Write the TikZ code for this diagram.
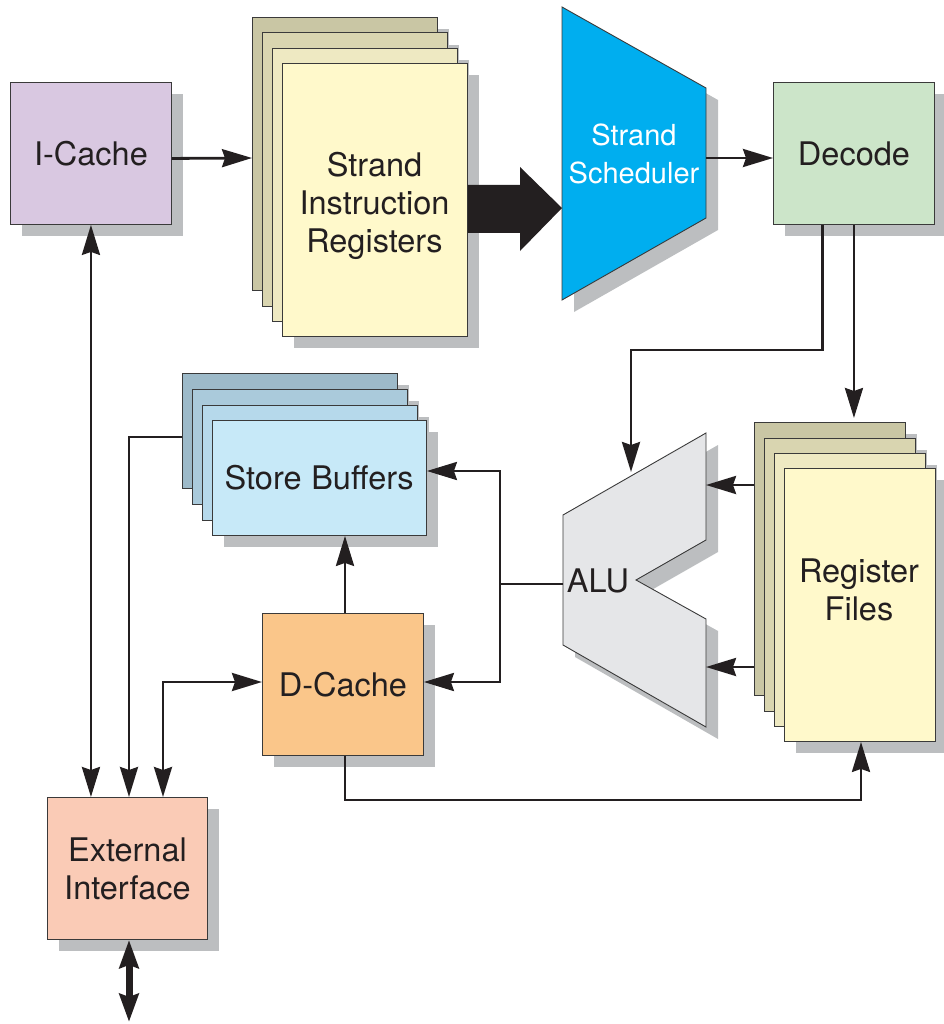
\documentclass[tikz,border=0pt]{standalone}
\usepackage{fontspec}
\setmainfont{TeX Gyre Heros}
\usetikzlibrary{arrows.meta,shadows,calc}
\definecolor{shgray}{HTML}{BCBEC0}
\definecolor{ink}{HTML}{231F20}
\definecolor{edge}{HTML}{3A3A3A}
\definecolor{icachec}{HTML}{D9C8E1}
\definecolor{yelA}{HTML}{FFF9CB}
\definecolor{yelB}{HTML}{EEE9C2}
\definecolor{yelC}{HTML}{D9D5B0}
\definecolor{yelD}{HTML}{C9C6A4}
\definecolor{blueA}{HTML}{C7E9F8}
\definecolor{blueB}{HTML}{B6D9EB}
\definecolor{blueC}{HTML}{AACADB}
\definecolor{blueD}{HTML}{9DBAC9}
\definecolor{schedc}{HTML}{00AEEF}
\definecolor{decodec}{HTML}{CCE5C9}
\definecolor{aluc}{HTML}{E5E6E8}
\definecolor{dcachec}{HTML}{FAC68A}
\definecolor{extc}{HTML}{FACBB6}
\begin{document}
\begin{tikzpicture}[x=1pt,y=-1pt,
  shadowed/.style={drop shadow={shadow xshift=12pt,shadow yshift=-12pt,fill=shgray,opacity=1}},
  box/.style={draw=edge,line width=0.9pt,inner sep=0pt,anchor=north west,shadowed,
    font=\fontsize{32.5}{38}\selectfont,text=ink,align=center},
  lbl/.style={font=\fontsize{32.5}{38}\selectfont,text=ink,align=center,inner sep=0pt},
  conn/.style={draw=ink,line width=2.8pt},
  arr/.style={conn,-{Stealth[length=30pt,width=18pt,inset=3pt]}},
  arrtwo/.style={conn,{Stealth[length=30pt,width=18pt,inset=3pt]}-{Stealth[length=30pt,width=18pt,inset=3pt]}},
  bus/.style={draw=ink,line width=7pt,{Stealth[length=28pt,width=19pt,inset=3pt]}-{Stealth[length=28pt,width=19pt,inset=3pt]}}
]
\useasboundingbox (0,0) rectangle (943,1024);

% I-Cache
\node[box,fill=icachec,minimum width=161pt,minimum height=142pt] (icache) at (10,82) {I-Cache};

% Strand Instruction Registers stack
\node[box,fill=yelD,minimum width=185pt,minimum height=273pt] (sirD) at (252,17) {};
\node[box,fill=yelC,minimum width=185pt,minimum height=273pt] (sirC) at (262,32.5) {};
\node[box,fill=yelB,minimum width=185pt,minimum height=273pt] (sirB) at (272,48) {};
\node[box,fill=yelA,minimum width=185pt,minimum height=273pt] (sirA) at (282,63) {};
\node[lbl] (sirtext) at (374.5,206) {Strand\\Instruction\\Registers};

% Strand Scheduler (trapezoid)
\coordinate (ssTL) at (562,7);
\coordinate (ssTR) at (706,88);
\coordinate (ssBR) at (706,218);
\coordinate (ssBL) at (562,300);
\path[draw=edge,line width=0.9pt,fill=schedc,shadowed] (ssTL) -- (ssTR) -- (ssBR) -- (ssBL) -- cycle;
\node[lbl,text=white,font=\fontsize{29}{38}\selectfont] (sched) at (634,154) {Strand\\Scheduler};
\coordinate (ssOut) at (706,158);
\coordinate (ssIn) at (562,208);

% big arrow SIR -> Scheduler
\fill[ink] (sirA.east |- 0,185) -- (520,185) -- (520,167) -- (ssIn) -- (520,251) -- (520,233) -- (sirA.east |- 0,233) -- cycle;

% Decode
\node[box,fill=decodec,minimum width=161pt,minimum height=142pt] (decode) at (773,82) {Decode};

% ALU
\coordinate (aluTR) at (706,433);
\coordinate (aluTL) at (563,515);
\coordinate (aluBL) at (563,645);
\coordinate (aluBR) at (706,727);
\coordinate (aluNB) at (706,619);
\coordinate (aluNT) at (636,580);
\coordinate (aluNU) at (706,540);
\path[draw=edge,line width=0.9pt,fill=aluc,shadowed] (aluTR) -- (aluTL) -- (aluBL) -- (aluBR) -- (aluNB) -- (aluNT) -- (aluNU) -- cycle;
\node[lbl] (alu) at (598,581) {ALU};
\coordinate (aluIn) at (631,472);
\coordinate (aluR1) at (706,485);
\coordinate (aluR2) at (706,667);
\coordinate (aluL) at (563,584);
\coordinate (jn) at (500,584);

% Register Files stack
\node[box,fill=yelD,minimum width=151pt,minimum height=273pt] (rfD) at (754,422) {};
\node[box,fill=yelC,minimum width=151pt,minimum height=273pt] (rfC) at (764,437.5) {};
\node[box,fill=yelB,minimum width=151pt,minimum height=273pt] (rfB) at (774,453) {};
\node[box,fill=yelA,minimum width=151pt,minimum height=273pt] (rfA) at (784,468) {};
\node[lbl] (rftext) at (859,590) {Register\\Files};

% Store Buffers stack
\node[box,fill=blueD,minimum width=214.5pt,minimum height=115pt] (sbD) at (182,373) {};
\node[box,fill=blueC,minimum width=214.5pt,minimum height=115pt] (sbC) at (192,389) {};
\node[box,fill=blueB,minimum width=214.5pt,minimum height=115pt] (sbB) at (202,404.5) {};
\node[box,fill=blueA,minimum width=214.5pt,minimum height=115pt] (sbA) at (211.5,420) {Store\hspace{0.3em}Buffers};

% D-Cache
\node[box,fill=dcachec,minimum width=161pt,minimum height=142pt] (dcache) at (262,613) {D-Cache};

% External Interface
\node[box,fill=extc,minimum width=160pt,minimum height=142pt] (ext) at (47,797) {External\\Interface};
\coordinate (busEnd) at (129,1022);

% connectors
\draw[arr] ([yshift=-5pt]icache.east) -- (sirD.west |- 0,158);
\draw[arr] (ssOut) -- (decode.west |- ssOut);
\draw[arr] ([xshift=-31.5pt]decode.south) -- ++(0,125) -| (aluIn);
\draw[arr] (decode.south) -- ([yshift=4pt]decode.south |- rfD.north);
\draw[arr] (rfD.west |- aluR1) -- (aluR1);
\draw[arr] (rfD.west |- aluR2) -- (aluR2);
\draw[conn] (aluL) -- (jn);
\draw[arr] (jn) |- (sbA.east |- 0,471);
\draw[arr] (jn) |- (dcache.east |- 0,682);
\draw[arr] (dcache.north -| 345,0) -- (sbA.south -| 345,0);
\draw[arr] (dcache.south -| 345,0) -- (345,800) -| (rfA.south -| 861,0);
\draw[arr] (sbD.west |- 0,437) -| (ext.north -| 129,0);
\draw[arrtwo] (dcache.west |- 0,682) -| (ext.north -| 163,0);
\draw[arrtwo] (icache.south) -- (icache.south |- ext.north);
\draw[bus] (ext.south -| busEnd) -- (busEnd);
\end{tikzpicture}
\end{document}
